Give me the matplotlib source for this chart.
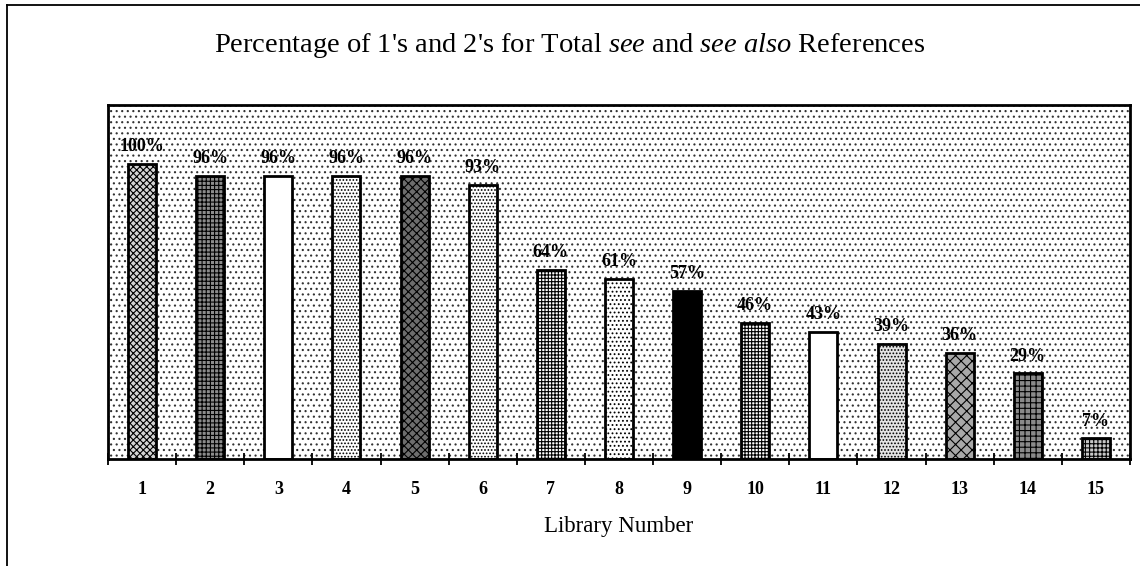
import matplotlib.pyplot as plt
from matplotlib.patches import Rectangle
from matplotlib.lines import Line2D
import numpy as np

# data
libraries = [str(i) for i in range(1, 16)]
percent = [100, 96, 96, 96, 96, 93, 64, 61, 57, 46, 43, 39, 36, 29, 7]

# fill look of each bar (scanned patterns approximated with hatches)
faces = ['#d4d4d4', '#8c8c8c', 'white', 'white', '#6e6e6e', 'white', 'white', 'white',
         'black', 'white', 'white', '#e4e4e4', '#a8a8a8', '#8a8a8a', '#c8c8c8']
hatches = ['xxxxx', '++++', '', '.....', 'xxxx', '.....', '+++++', '....',
           '', '+++++', '', '.....', 'xxx', '+++', '++++']

plt.rcParams['font.family'] = ['Liberation Serif', 'DejaVu Serif']
plt.rcParams['mathtext.fontset'] = 'custom'
plt.rcParams['mathtext.rm'] = 'Liberation Serif'
plt.rcParams['mathtext.it'] = 'Liberation Serif:italic'
plt.rcParams['hatch.linewidth'] = 0.8

fig = plt.figure(figsize=(11.4, 5.66), dpi=100)
ax = fig.add_axes([108 / 1140, 1 - 459 / 566, 1022 / 1140, 354 / 566])

# dotted background of the plot area
ax.add_patch(Rectangle((0, 0), 1, 1, transform=ax.transAxes, facecolor='white',
                       edgecolor='#333333', hatch='...', lw=0, zorder=0))

x = np.arange(len(libraries))
bars = ax.bar(x, percent, width=0.41, color=faces, edgecolor='black', lw=2, zorder=2)
for b, h in zip(bars, hatches):
    b.set_hatch(h)

for xi, p in zip(x, percent):
    ax.text(xi, p + 3.0, f"{p}%", ha='center', va='bottom', fontsize=13,
            fontweight='bold', zorder=3)

ax.set_xlim(-0.5, len(libraries) - 0.5)
ax.set_ylim(0, 120)
ax.set_yticks([])
ax.set_xticks(x)
ax.set_xticklabels(libraries, fontsize=13, fontweight='bold')
ax.tick_params(axis='x', which='major', length=0, pad=16)
ax.set_xticks(np.arange(-0.5, len(libraries)), minor=True)
ax.tick_params(axis='x', which='minor', direction='inout', length=9, width=1.3)
for s in ax.spines.values():
    s.set_linewidth(2)

ax.set_xlabel("Library Number", fontsize=16.5, labelpad=13)
fig.text(0.5, 1 - 45 / 566,
         r"Percentage of 1's and 2's for Total $\mathit{see}$ and $\mathit{see\ also}$ References",
         ha='center', va='center', fontsize=20.5)

# page frame lines of the scan
fig.add_artist(Line2D([7 / 1140, 1], [1 - 5 / 566, 1 - 5 / 566], color='black', lw=1.3))
fig.add_artist(Line2D([7 / 1140, 7 / 1140], [1 - 5 / 566, 0], color='black', lw=1.3))

fig.savefig('out.png', dpi=100)
